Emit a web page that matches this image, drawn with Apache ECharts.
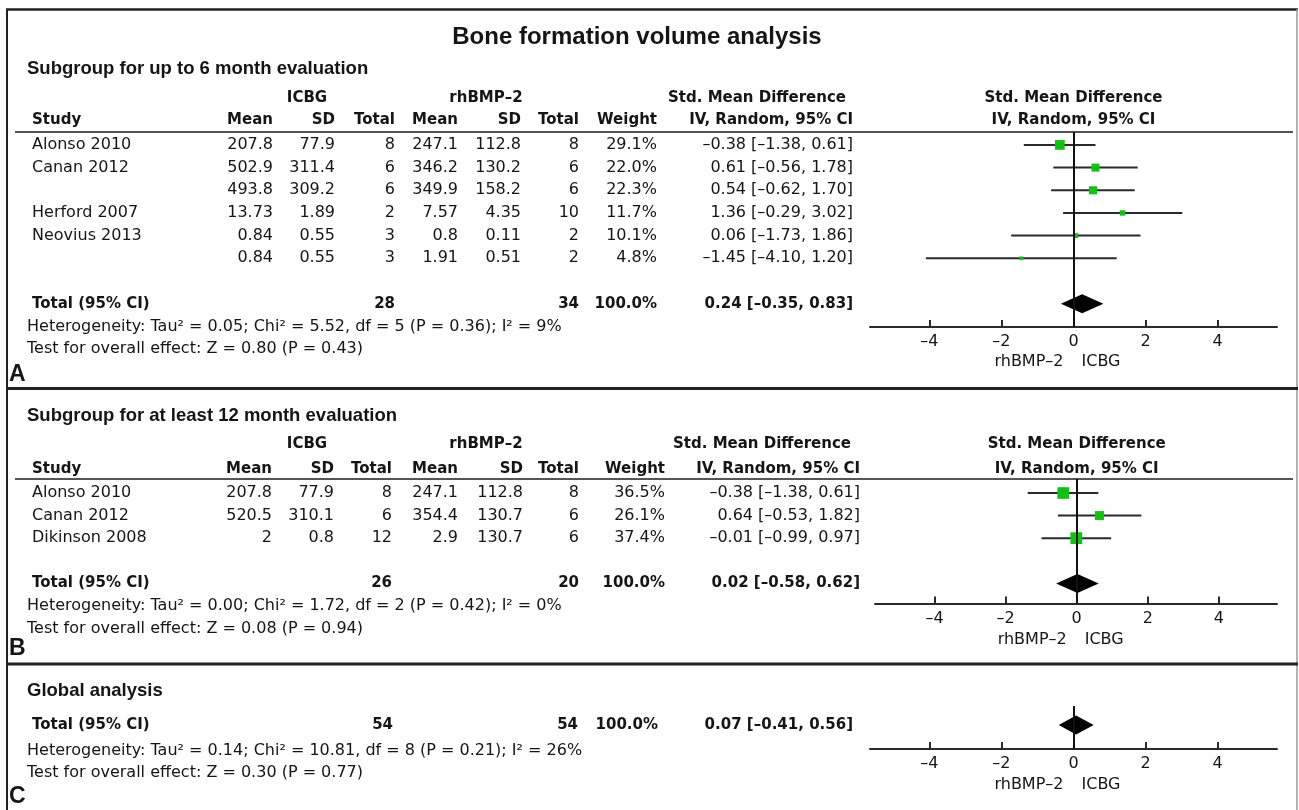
<!DOCTYPE html>
<html>
<head>
<meta charset="utf-8">
<script src="https://cdn.jsdelivr.net/npm/echarts@6/dist/echarts.min.js"></script>
<style>
  html, body { margin: 0; padding: 0; background: #fff; }
  #chart { width: 1299px; height: 810px; }
</style>
</head>
<body>
<div id="chart"></div>
<script>
// ---- panel A: up to 6 month ----
const studiesA = ['Alonso 2010', 'Canan 2012', '', 'Herford 2007', 'Neovius 2013', ''];
const icbgMeanA = [207.8, 502.9, 493.8, 13.73, 0.84, 0.84];
const icbgSdA = [77.9, 311.4, 309.2, 1.89, 0.55, 0.55];
const icbgNA = [8, 6, 6, 2, 3, 3];
const bmpMeanA = [247.1, 346.2, 349.9, 7.57, 0.8, 1.91];
const bmpSdA = [112.8, 130.2, 158.2, 4.35, 0.11, 0.51];
const bmpNA = [8, 6, 6, 10, 2, 2];
const weightA = [29.1, 22.0, 22.3, 11.7, 10.1, 4.8];
const smdA = [-0.38, 0.61, 0.54, 1.36, 0.06, -1.45];
const loA = [-1.38, -0.56, -0.62, -0.29, -1.73, -4.10];
const hiA = [0.61, 1.78, 1.70, 3.02, 1.86, 1.20];

// ---- panel B: at least 12 month ----
const studiesB = ['Alonso 2010', 'Canan 2012', 'Dikinson 2008'];
const icbgMeanB = [207.8, 520.5, 2];
const icbgSdB = [77.9, 310.1, 0.8];
const icbgNB = [8, 6, 12];
const bmpMeanB = [247.1, 354.4, 2.9];
const bmpSdB = [112.8, 130.7, 130.7];
const bmpNB = [8, 6, 6];
const weightB = [36.5, 26.1, 37.4];
const smdB = [-0.38, 0.64, -0.01];
const loB = [-1.38, -0.53, -0.99];
const hiB = [0.61, 1.82, 0.97];

// ---- pooled results (A, B, C=global) ----
const totalN1 = [28, 26, 54];
const totalN2 = [34, 20, 54];
const pooledEst = [0.24, 0.02, 0.07];
const pooledLo = [-0.35, -0.58, -0.41];
const pooledHi = [0.83, 0.62, 0.56];
const tau2 = [0.05, 0.00, 0.14];
const chi2 = [5.52, 1.72, 10.81];
const dfs = [5, 2, 8];
const pHet = [0.36, 0.42, 0.21];
const i2 = [9, 0, 26];
const zVal = [0.80, 0.08, 0.30];
const pZ = [0.43, 0.94, 0.77];

const tickValues = [-4, -2, 0, 2, 4];

// ---- layout ----
const FONT = '"DejaVu Sans", sans-serif';
const HEAD = '"Liberation Sans", Arial, sans-serif';
const INK = '#151515';
const TXT = 16;   // body text
const BTXT = 15;  // bold column headers
const panels = [
  { grid: { left: 870, width: 407, top: 132, height: 195 }, xMin: -5.65, xMax: 5.65, yMin: -0.57, yMax: 8.03,
    sub: 'Subgroup for up to 6 month evaluation', subY: 69, head1: 98, head2: 120, het: 327, test: 349, letter: 'A', letterY: 375,
    tickY: 362,
    cols: { study: 32, m1: 273, sd1: 335, n1: 395, m2: 458, sd2: 521, n2: 579, w: 657, ci: 853, icbg: 307, bmp: 486, smd: 757 } },
  { grid: { left: 875, width: 402, top: 479, height: 124.5 }, xMin: -5.68, xMax: 5.64, yMin: -0.62, yMax: 4.89,
    sub: 'Subgroup for at least 12 month evaluation', subY: 416, head1: 444, head2: 469, het: 606, test: 629, letter: 'B', letterY: 649,
    tickY: 640,
    cols: { study: 32, m1: 272, sd1: 334, n1: 392, m2: 458, sd2: 523, n2: 579, w: 665, ci: 860, icbg: 307, bmp: 486, smd: 762 } },
  { grid: { left: 870, width: 407, top: 706, height: 43 }, xMin: -5.65, xMax: 5.65, yMin: -0.84, yMax: 1.06,
    sub: 'Global analysis', subY: 691, het: 751, test: 773, letter: 'C', letterY: 797,
    tickY: 785,
    cols: { study: 32, n1: 393, n2: 578, w: 658, ci: 853 } }
];

function dash(v) { return v < 0 ? '\u2013' + Math.abs(v) : String(v); }
function f2(v) { return (v < 0 ? '\u2013' : '') + Math.abs(v).toFixed(2); }
function ciText(e, l, h) { return f2(e) + ' [' + f2(l) + ', ' + f2(h) + ']'; }

function txt(s, x, y, align, bold, size, family) {
  return {
    type: 'text', x: x, y: y, silent: true,
    style: {
      text: s, textAlign: align || 'left', textVerticalAlign: 'middle', fill: INK,
      font: (bold ? 'bold ' : '') + (size || (bold ? BTXT : TXT)) + 'px ' + (family || FONT)
    }
  };
}
function hline(x1, x2, y, w, color) {
  return { type: 'line', silent: true, shape: { x1: x1, y1: y, x2: x2, y2: y }, style: { stroke: color, lineWidth: w } };
}
function rowY(p, idx) {
  return p.grid.top + (idx - p.yMin) / (p.yMax - p.yMin) * p.grid.height;
}
function zeroX(p) {
  return p.grid.left + (0 - p.xMin) / (p.xMax - p.xMin) * p.grid.width;
}

const graphics = [];
// frame
graphics.push({ type: 'line', silent: true, shape: { x1: 7, y1: 9, x2: 7, y2: 812 }, style: { stroke: '#222', lineWidth: 2 } });
graphics.push(hline(6, 1298, 9.5, 2.5, '#222'));
graphics.push({ type: 'line', silent: true, shape: { x1: 1297, y1: 9, x2: 1297, y2: 812 }, style: { stroke: '#999', lineWidth: 1.5 } });
graphics.push(hline(6, 1298, 388.5, 3, '#222'));
graphics.push(hline(6, 1298, 664, 3, '#222'));
graphics.push(txt('Bone formation volume analysis', 637, 37, 'center', true, 24, HEAD));

const tables = [
  { studies: studiesA, m1: icbgMeanA, sd1: icbgSdA, n1: icbgNA, m2: bmpMeanA, sd2: bmpSdA, n2: bmpNA, w: weightA, e: smdA, lo: loA, hi: hiA },
  { studies: studiesB, m1: icbgMeanB, sd1: icbgSdB, n1: icbgNB, m2: bmpMeanB, sd2: bmpSdB, n2: bmpNB, w: weightB, e: smdB, lo: loB, hi: hiB },
  null
];

panels.forEach(function (p, k) {
  const c = p.cols;
  const t = tables[k];
  graphics.push(txt(p.sub, 27, p.subY, 'left', true, 18.5, HEAD));
  graphics.push(txt(p.letter, 9, p.letterY, 'left', true, 23, HEAD));
  if (t) {
    graphics.push(txt('ICBG', c.icbg, p.head1, 'center', true));
    graphics.push(txt('rhBMP\u20132', c.bmp, p.head1, 'center', true));
    graphics.push(txt('Std. Mean Difference', c.smd, p.head1, 'center', true));
    graphics.push(txt('Std. Mean Difference', zeroX(p), p.head1, 'center', true));
    graphics.push(txt('Study', c.study, p.head2, 'left', true));
    [['Mean', 'm1'], ['SD', 'sd1'], ['Total', 'n1'], ['Mean', 'm2'], ['SD', 'sd2'], ['Total', 'n2'], ['Weight', 'w'], ['IV, Random, 95% CI', 'ci']]
      .forEach(function (h) { graphics.push(txt(h[0], c[h[1]], p.head2, 'right', true)); });
    graphics.push(txt('IV, Random, 95% CI', zeroX(p), p.head2, 'center', true));
    graphics.push(hline(15, 1293, p.grid.top, 2, '#555'));
    t.studies.forEach(function (s, i) {
      const y = rowY(p, i);
      graphics.push(txt(s, c.study, y, 'left'));
      ['m1', 'sd1', 'n1', 'm2', 'sd2', 'n2'].forEach(function (key) {
        graphics.push(txt(dash(t[key][i]), c[key], y, 'right'));
      });
      graphics.push(txt(t.w[i].toFixed(1) + '%', c.w, y, 'right'));
      graphics.push(txt(ciText(t.e[i], t.lo[i], t.hi[i]), c.ci, y, 'right'));
    });
  }
  const totIdx = t ? t.studies.length + 1 : 0;
  const ty = rowY(p, totIdx);
  graphics.push(txt('Total (95% CI)', c.study, ty, 'left', true));
  graphics.push(txt(String(totalN1[k]), c.n1, ty, 'right', true));
  graphics.push(txt(String(totalN2[k]), c.n2, ty, 'right', true));
  graphics.push(txt('100.0%', c.w, ty, 'right', true));
  graphics.push(txt(ciText(pooledEst[k], pooledLo[k], pooledHi[k]), c.ci, ty, 'right', true));
  graphics.push(txt('Heterogeneity: Tau\u00b2 = ' + tau2[k].toFixed(2) + '; Chi\u00b2 = ' + chi2[k].toFixed(2) +
    ', df = ' + dfs[k] + ' (P = ' + pHet[k].toFixed(2) + '); I\u00b2 = ' + i2[k] + '%', 27, p.het, 'left'));
  graphics.push(txt('Test for overall effect: Z = ' + zVal[k].toFixed(2) + ' (P = ' + pZ[k].toFixed(2) + ')', 27, p.test, 'left'));
  const zx = zeroX(p);
  graphics.push(txt('rhBMP\u20132', zx - 10, p.tickY, 'right'));
  graphics.push(txt('ICBG', zx + 8, p.tickY, 'left'));
});

// ---- series ----
function renderStudy(params, api) {
  const y = api.value(0);
  const pLo = api.coord([api.value(2), y]);
  const pHi = api.coord([api.value(3), y]);
  const pE = api.coord([api.value(1), y]);
  const s = 0.25 * api.value(4) + 2.5;
  return {
    type: 'group', children: [
      { type: 'line', shape: { x1: pLo[0], y1: pLo[1], x2: pHi[0], y2: pHi[1] }, style: { stroke: '#2a2a2a', lineWidth: 2 } },
      { type: 'rect', shape: { x: pE[0] - s / 2, y: pE[1] - s / 2, width: s, height: s }, style: { fill: '#12c212' } }
    ]
  };
}
function renderDiamond(params, api) {
  const y = api.value(0);
  const pLo = api.coord([api.value(2), y]);
  const pHi = api.coord([api.value(3), y]);
  const pE = api.coord([api.value(1), y]);
  const h = 9.5;
  return {
    type: 'polygon',
    shape: { points: [[pLo[0], pE[1]], [pE[0], pE[1] - h], [pHi[0], pE[1]], [pE[0], pE[1] + h]] },
    style: { fill: '#000' }
  };
}

const grids = [], xAxes = [], yAxes = [], series = [];
panels.forEach(function (p, k) {
  grids.push(Object.assign({ containLabel: false }, p.grid));
  xAxes.push({
    gridIndex: k, type: 'value', min: p.xMin, max: p.xMax,
    axisLine: { show: true, onZero: false, lineStyle: { color: '#2a2a2a', width: 2 } },
    axisTick: { show: true, inside: true, length: 7, customValues: tickValues, lineStyle: { color: '#2a2a2a', width: 2 } },
    axisLabel: { customValues: tickValues, color: INK, fontFamily: 'DejaVu Sans', fontSize: 16, margin: 7, formatter: dash },
    splitLine: { show: false }
  });
  yAxes.push({ gridIndex: k, type: 'value', min: p.yMin, max: p.yMax, inverse: true, show: false });
  const t = tables[k];
  if (t) {
    series.push({
      type: 'custom', xAxisIndex: k, yAxisIndex: k, silent: true, renderItem: renderStudy,
      encode: { x: [1, 2, 3], y: 0 },
      data: t.e.map(function (e, i) { return [i, e, t.lo[i], t.hi[i], t.w[i]]; })
    });
  }
  series.push({
    type: 'custom', xAxisIndex: k, yAxisIndex: k, silent: true, renderItem: renderDiamond,
    encode: { x: [1, 2, 3], y: 0 },
    data: [[t ? t.studies.length + 1 : 0, pooledEst[k], pooledLo[k], pooledHi[k]]],
    markLine: {
      silent: true, symbol: ['none', 'none'], animation: false, label: { show: false },
      lineStyle: { color: '#111', width: 2, type: 'solid' },
      data: [{ xAxis: 0 }]
    }
  });
});

const chart = echarts.init(document.getElementById('chart'));
chart.setOption({
  animation: false,
  backgroundColor: '#fff',
  grid: grids,
  xAxis: xAxes,
  yAxis: yAxes,
  series: series,
  graphic: { elements: graphics }
});
</script>
</body>
</html>
